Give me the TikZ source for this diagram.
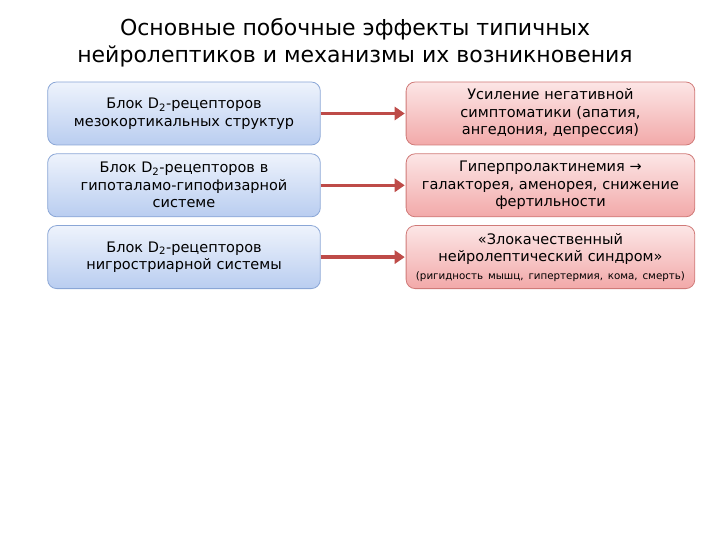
\documentclass[tikz,border=0pt]{standalone}
\usepackage{fontspec}
\setmainfont{DejaVu Sans}
\usetikzlibrary{positioning, arrows.meta}

\definecolor{causeline}{HTML}{8AA6D6}
\definecolor{causetop}{HTML}{EEF3FC}
\definecolor{causebot}{HTML}{B9CDF0}
\definecolor{effectline}{HTML}{D07A78}
\definecolor{effecttop}{HTML}{FCE6E6}
\definecolor{effectbot}{HTML}{F2A9A9}
\definecolor{arrowred}{HTML}{BE4B48}

\begin{document}
\begin{tikzpicture}[x=1pt, y=1pt,
		% Define styles for the nodes
		causebox/.style={
			rectangle, rounded corners=9pt, draw=causeline, top color=causetop, bottom color=causebot,
			thick, text centered, align=center, minimum height=63pt, minimum width=272pt,
			text width=266pt, font=\fontsize{14.5}{17.5}\selectfont
		},
		effectbox/.style={
			rectangle, rounded corners=9pt, draw=effectline, top color=effecttop, bottom color=effectbot,
			thick, text centered, align=center, minimum height=63pt, minimum width=287pt,
			text width=282pt, font=\fontsize{14.5}{17.5}\selectfont
		},
		edge/.style={
			-{Triangle[length=10pt, width=13pt]}, line width=3.5pt, draw=arrowred, shorten >=1pt
		}
		]
		\useasboundingbox (0,0) rectangle (720,-540);
		
		% Title
		\node[align=center, font=\fontsize{22}{27}\selectfont] (title) at (355,-43) {
			Основные побочные эффекты типичных \\
			нейролептиков и механизмы их возникновения
		};
		
		% Left column: what is blocked
		\node[causebox] (mesocortex) at (184,-113.5) {
			Блок D\textsubscript{2}-рецепторов \\
			мезокортикальных структур
		};
		\node[causebox, below=8pt of mesocortex] (hypothal) {
			Блок D\textsubscript{2}-рецепторов в \\
			гипоталамо-гипофизарной \\
			системе
		};
		\node[causebox, below=8pt of hypothal] (nigro) {
			Блок D\textsubscript{2}-рецепторов \\
			нигростриарной системы
		};
		
		% Right column: the effects
		\node[effectbox, right=85pt of mesocortex] (negative) {
			Усиление негативной \\
			симптоматики (апатия, \\
			ангедония, депрессия)
		};
		\node[effectbox, right=85pt of hypothal] (prolactin) {
			Гиперпролактинемия → \\
			галакторея, аменорея, снижение \\
			фертильности
		};
		\node[effectbox, right=85pt of nigro] (malignant) {
			«Злокачественный \\
			нейролептический синдром» \\
			{\fontsize{10.3}{13}\selectfont (ригидность мышц, гипертермия, кома, смерть)}
		};
		
		% Arrows from cause to effect
		\draw[edge] (mesocortex) -- (negative);
		\draw[edge] (hypothal) -- (prolactin);
		\draw[edge] (nigro) -- (malignant);
		
	\end{tikzpicture}
\end{document}
